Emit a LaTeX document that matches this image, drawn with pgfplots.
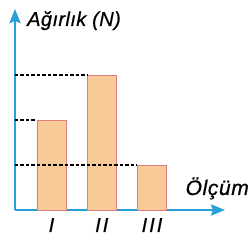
\documentclass[border=0pt]{standalone}
\usepackage{fontspec}
\setmainfont{Liberation Sans}[FakeBold=0.6]
\usepackage{pgfplots}
\pgfplotsset{compat=1.18}
\usetikzlibrary{arrows.meta}
\definecolor{axblue}{RGB}{40,160,215}
\definecolor{barfill}{RGB}{247,202,152}
\definecolor{baredge}{RGB}{222,125,125}
\begin{document}
\begin{tikzpicture}
\begin{axis}[
  scale only axis,
  width=210pt, height=201pt,
  xmin=-0.726, xmax=3.453,
  ymin=0, ymax=4.467,
  axis lines=left,
  axis line style={axblue, line width=2.8pt, -{Stealth[length=14pt,width=11pt,inset=2pt]}},
  xtick={0,1,2},
  xticklabels={I,II,III},
  ytick=\empty,
  major tick length=0pt,
  xticklabel style={anchor=base, yshift=-22pt, font=\fontsize{20}{24}\selectfont\itshape\addfontfeatures{LetterSpace=10}},
  clip=false,
]
\addplot[ybar, bar width=0.58, fill=barfill, draw=baredge, line width=0.6pt] coordinates {(0,2) (1,3) (2,1)};
\addplot[black, line width=1.1pt, dash pattern=on 3.5pt off 2pt] coordinates {(-0.726,3) (0.71,3)};
\addplot[black, line width=1.1pt, dash pattern=on 3.5pt off 2pt] coordinates {(-0.726,2) (-0.29,2)};
\addplot[black, line width=1.1pt, dash pattern=on 3.5pt off 2pt] coordinates {(-0.726,1) (1.71,1)};
\node[anchor=base west, inner sep=0pt, font=\fontsize{20}{24}\selectfont\itshape\addfontfeatures{LetterSpace=2}] at ([xshift=12pt,yshift=-17pt]rel axis cs:0,1) {Ağırlık (N)};
\node[anchor=base east, inner sep=0pt, font=\fontsize{21}{24}\selectfont\itshape\addfontfeatures{LetterSpace=3}] at ([xshift=24pt,yshift=15pt]rel axis cs:1,0) {Ölçüm};
\coordinate (bl) at ([xshift=-15pt,yshift=-30pt]rel axis cs:0,0);
\coordinate (tr) at ([xshift=26pt,yshift=9pt]rel axis cs:1,1);
\end{axis}
\pgfresetboundingbox
\useasboundingbox (bl) rectangle (tr);
\end{tikzpicture}
\end{document}
